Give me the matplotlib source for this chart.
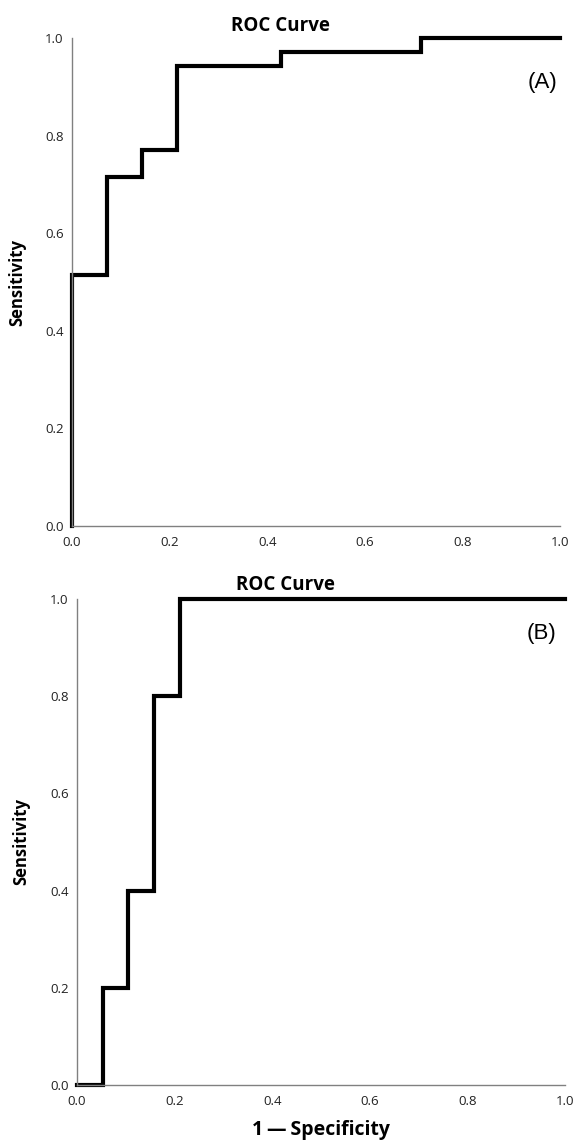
import matplotlib
matplotlib.use('Agg')
import numpy as np
from matplotlib import pyplot as plt

plt.rcParams['font.family'] = ['Open Sans', 'DejaVu Sans']

# panel A: 14 negatives, 35 positives
fpr_a = [0.0, 0.0, 1 / 14, 2 / 14, 3 / 14, 6 / 14, 10 / 14, 1.0]
tpr_a = [0.0, 18 / 35, 25 / 35, 27 / 35, 33 / 35, 34 / 35, 1.0, 1.0]

# panel B: 19 negatives, 5 positives
fpr_b = [0.0, 1 / 19, 2 / 19, 3 / 19, 4 / 19, 1.0]
tpr_b = [0.0, 0.2, 0.4, 0.8, 1.0, 1.0]

ticks = [0.0, 0.2, 0.4, 0.6, 0.8, 1.0]
tick_labels = ['0.0', '0.2', '0.4', '0.6', '0.8', '1.0']

fig = plt.figure(figsize=(5.77, 11.42), dpi=100)
ax_a = fig.add_axes([0.1248, 0.5394, 0.8458, 0.4273])
ax_b = fig.add_axes([0.1334, 0.0499, 0.8458, 0.4256])

panels = [(ax_a, fpr_a, tpr_a, '(A)', 0.994, 0.909, 1.0143, -0.094),
          (ax_b, fpr_b, tpr_b, '(B)', 0.982, 0.928, 1.0185, -0.096)]

for ax, fpr, tpr, tag, tx, ty, title_y, ylab_x in panels:
    ax.step(fpr, tpr, where='post', color='black', lw=3, clip_on=False, solid_joinstyle='miter')
    ax.set_xlim(0, 1)
    ax.set_ylim(0, 1)
    for s in ['top', 'right']:
        ax.spines[s].set_visible(False)
    for s in ['left', 'bottom']:
        ax.spines[s].set_color('#808080')
        ax.spines[s].set_linewidth(1.0)
    ax.set_xticks(ticks)
    ax.set_xticklabels(tick_labels)
    ax.set_yticks(ticks)
    ax.set_yticklabels(tick_labels)
    ax.tick_params(length=0, labelsize=9.5, colors='#222222')
    ax.tick_params(axis='x', pad=7)
    ax.tick_params(axis='y', pad=6)
    ax.set_ylabel('Sensitivity', fontsize=12, fontweight='bold')
    ax.yaxis.set_label_coords(ylab_x, 0.5)
    ax.text(0.428, title_y, 'ROC Curve', transform=ax.transAxes, ha='center', va='baseline',
            fontsize=13.5, fontweight='bold')
    ax.text(tx, ty, tag, transform=ax.transAxes, ha='right', va='center',
            fontsize=16, family=['Liberation Sans', 'DejaVu Sans'])

fig.text(0.556, 0.006, '1\u2009\u2014\u2009Specificity', ha='center', va='baseline',
         fontsize=14, fontweight='bold')

fig.savefig('out.png', dpi=100)
